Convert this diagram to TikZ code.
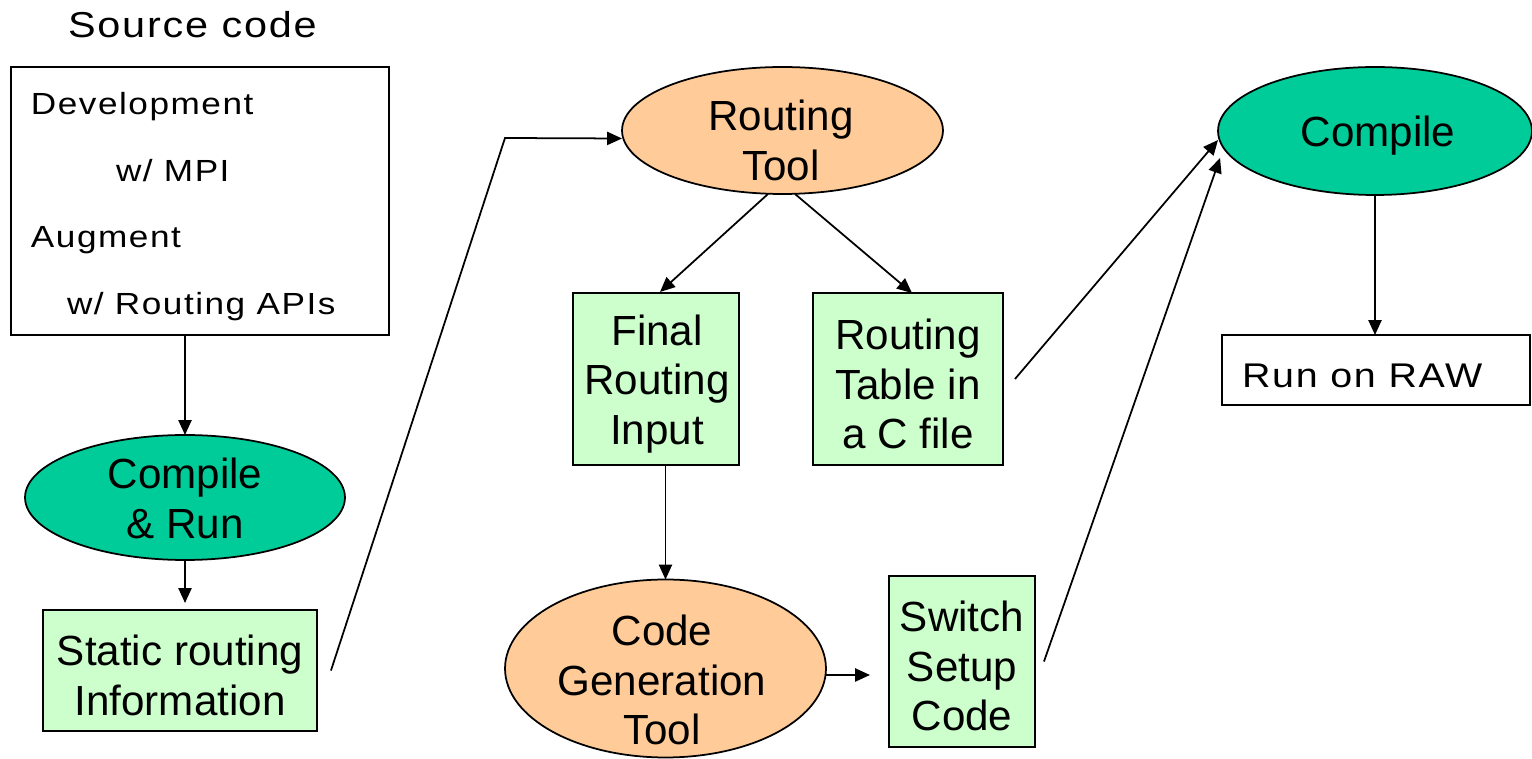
\documentclass[tikz,border=0pt]{standalone}
\usepackage{fontspec}
\setmainfont{Liberation Sans}
\newfontfamily\thinfont[FakeStretch=1.15,LetterSpace=5]{Liberation Sans}
\usetikzlibrary{shapes.geometric,arrows.meta,calc}
\definecolor{darkgreen}{RGB}{0,204,153}
\definecolor{peach}{RGB}{255,204,153}
\definecolor{palegreen}{RGB}{204,255,204}
\begin{document}
\begin{tikzpicture}[x=0.02cm,y=-0.02cm,
  every node/.style={inner sep=0pt,outer sep=0pt},
  mtext/.style={font=\fontsize{24}{28.4}\selectfont,align=center},
  thintext/.style={font=\thinfont\fontsize{17.4}{20}\selectfont,anchor=base west},
  boxw/.style={draw,line width=1pt,fill=white},
  boxg/.style={draw,line width=1pt,fill=palegreen},
  ellg/.style={ellipse,draw,line width=1pt,fill=darkgreen},
  ello/.style={ellipse,draw,line width=1pt,fill=peach},
  arr/.style={line width=1pt,-{Triangle[length=8.5pt,width=7.5pt]}},
  ln/.style={line width=1pt}]
\useasboundingbox (0,0) rectangle (1532,759);

% Source code
\node[thintext,font=\thinfont\fontsize{20.5}{24}\selectfont] (srctitle) at (68,38) {Source code};
\node[boxw,minimum width=7.56cm,minimum height=5.36cm] (src) at (200,201) {};
\node[thintext] (t1) at (31,115) {Development};
\node[thintext] (t2) at (116,182) {w/ MPI};
\node[thintext] (t3) at (31,248) {Augment};
\node[thintext] (t4) at (67,315) {w/ Routing APIs};

\node[ellg,minimum width=6.4cm,minimum height=2.5cm] (cr) at (185,497.5) {};
\node[mtext] (crt) at (185,498) {Compile\\\& Run};
\node[boxg,minimum width=5.48cm,minimum height=2.42cm] (static) at (180,670.5) {};
\node[mtext] (statict) at (180,675) {Static routing\\Information};

\node[ello,minimum width=6.42cm,minimum height=2.54cm] (rtool) at (782.5,130.5) {};
\node[mtext] (rtoolt) at (781,140) {Routing\\Tool};
\node[boxg,minimum width=3.32cm,minimum height=3.44cm] (final) at (656,379) {};
\node[mtext] (finalt) at (657,384) {Final\\Routing\\Input};
\node[boxg,minimum width=3.8cm,minimum height=3.44cm] (rtable) at (908,379) {};
\node[mtext] (rtablet) at (908,384) {Routing\\Table in\\a C file};
\node[ello,minimum width=6.42cm,minimum height=3.56cm] (codegen) at (665.5,668.5) {};
\node[mtext] (codegent) at (662,680) {Code\\Generation\\Tool};
\node[boxg,minimum width=2.92cm,minimum height=3.42cm] (switch) at (962,661.5) {};
\node[mtext] (switcht) at (962,666) {Switch\\Setup\\Code};

\node[ellg,minimum width=6.28cm,minimum height=2.56cm] (comp) at (1375,131) {};
\node[mtext] (compt) at (1378,136) {Compile};
\node[boxw,minimum width=6.16cm,minimum height=1.4cm] (run) at (1376,370) {};
\node[thintext,font=\thinfont\fontsize{19.5}{24}\selectfont] (runtxt) at (1242,388) {Run on RAW};

% connectors
\draw[arr] (src.south -| cr.north) -- (cr.north);
\coordinate (crend) at (185,603);
\draw[arr] (cr.south) -- (crend);
\coordinate (bend) at (505,138);
\draw[arr] ([xshift=0.28cm]static.east) -- (bend) -- ([yshift=-0.16cm]rtool.west);
\draw[arr] ([xshift=-0.29cm]rtool.south) -- ([xshift=0.08cm,yshift=0.02cm]final.north);
\draw[arr] ([xshift=0.25cm]rtool.south) -- ([xshift=0.08cm]rtable.north);
\draw[arr] (final.south -| codegen.north) -- (codegen.north);
\coordinate (cgend) at (870,675);
\draw[arr] (codegen.east |- cgend) -- (cgend);
\draw[arr] ([xshift=0.24cm]rtable.east) -- ([yshift=-0.18cm]comp.west);
\draw[arr] ([xshift=0.18cm]switch.east) -- ([xshift=0.04cm,yshift=-0.54cm]comp.west);
\draw[arr] (comp.south) -- (comp.south |- run.north);
\end{tikzpicture}
\end{document}
